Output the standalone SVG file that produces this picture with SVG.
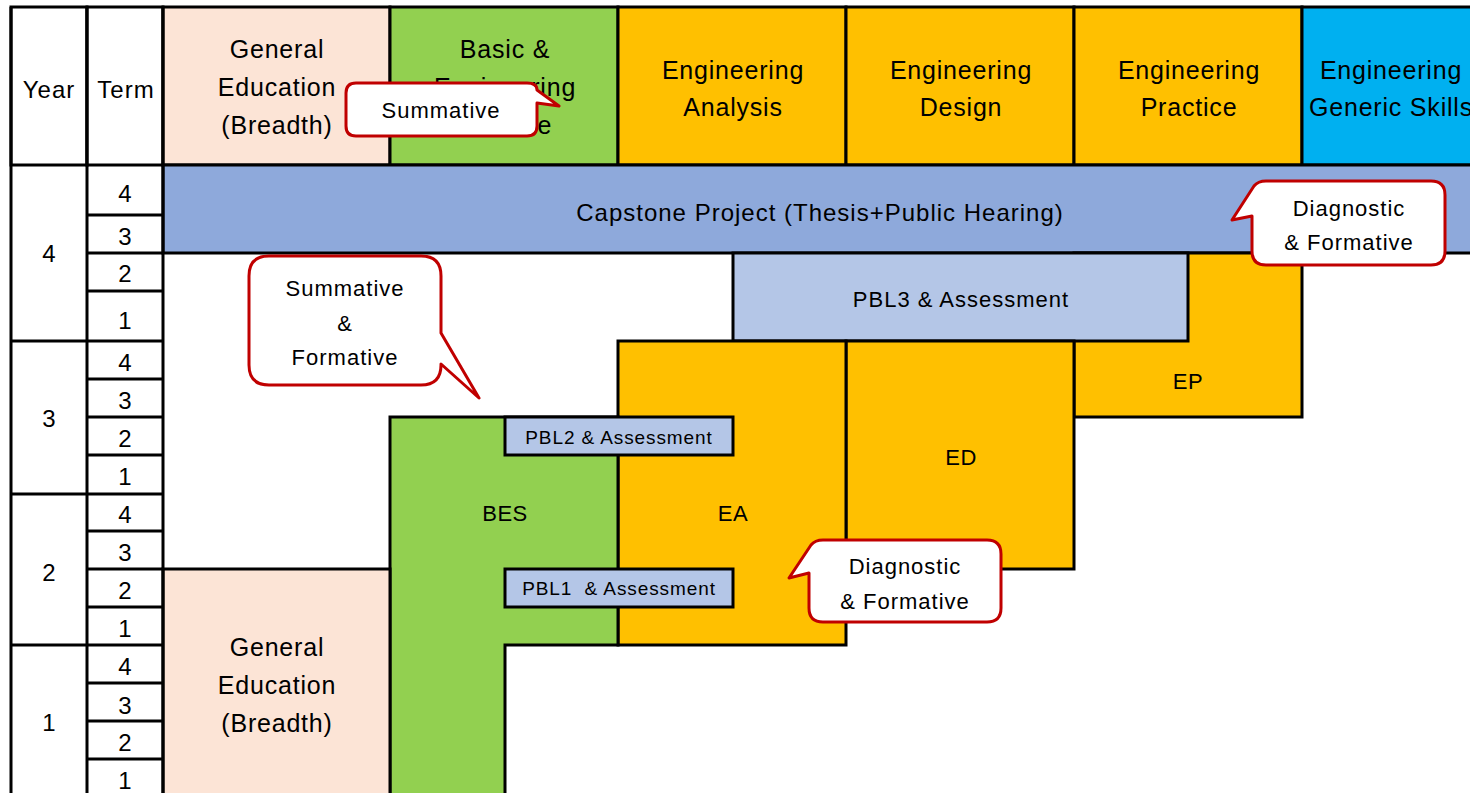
<svg xmlns="http://www.w3.org/2000/svg" width="1470" height="793" viewBox="0 0 1470 793">
<style>
text{font-family:"Liberation Sans",Arial,sans-serif;fill:#000;text-anchor:middle;dominant-baseline:central}
.h{font-size:25px;letter-spacing:0.8px}
.t{font-size:24px;letter-spacing:1px}
.n{font-size:22px;letter-spacing:0.5px}
.d{font-size:24px}
.c{font-size:22px;letter-spacing:1px}
.p{font-size:19px;letter-spacing:0.9px}
.cap{font-size:24px;letter-spacing:1px}
.ln{stroke:#000;stroke-width:3;fill:none}
.box{stroke:#000;stroke-width:3}
.ge{fill:#FCE4D6}.bes{fill:#92D050}.eng{fill:#FFC000}.egs{fill:#00B0F0}.cp{fill:#8EA9DB}.pbl{fill:#B4C6E7}
.call{fill:#fff;stroke:#C00000;stroke-width:3;stroke-linejoin:round}
</style>
<rect width="1470" height="793" fill="#fff"/>

<g id="header">
  <rect class="box" x="11" y="7" width="76" height="158" fill="#fff"/>
  <rect class="box" x="87" y="7" width="76" height="158" fill="#fff"/>
  <rect class="box ge" x="163" y="7" width="227" height="158"/>
  <rect class="box bes" x="390" y="7" width="228" height="158"/>
  <rect class="box eng" x="618" y="7" width="228" height="158"/>
  <rect class="box eng" x="846" y="7" width="228" height="158"/>
  <rect class="box eng" x="1074" y="7" width="228" height="158"/>
  <rect class="box egs" x="1302" y="7" width="180" height="158"/>
  <text class="t" x="49" y="89">Year</text>
  <text class="t" x="126" y="89">Term</text>
  <text class="h" x="277" y="49">General</text>
  <text class="h" x="277" y="87">Education</text>
  <text class="h" x="277" y="125">(Breadth)</text>
  <text class="h" x="505" y="49">Basic &amp;</text>
  <text class="h" x="505" y="87">Engineering</text>
  <text class="h" x="505" y="125">Science</text>
  <text class="h" x="733" y="70">Engineering</text>
  <text class="h" x="733" y="107">Analysis</text>
  <text class="h" x="961" y="70">Engineering</text>
  <text class="h" x="961" y="107">Design</text>
  <text class="h" x="1189" y="70">Engineering</text>
  <text class="h" x="1189" y="107">Practice</text>
  <text class="h" x="1391" y="70">Engineering</text>
  <text class="h" x="1391" y="107">Generic Skills</text>
</g>

<g id="capstone">
  <rect class="box cp" x="163" y="165" width="1320" height="88"/>
  <text class="cap" x="820" y="212">Capstone Project (Thesis+Public Hearing)</text>
</g>

<g id="ep">
  <rect class="box eng" x="1074" y="253" width="228" height="164"/>
  <text class="n" x="1188" y="381">EP</text>
</g>

<g id="pbl3">
  <rect class="box pbl" x="733" y="253" width="455" height="88"/>
  <text class="c" x="961" y="299">PBL3 &amp; Assessment</text>
</g>

<g id="ed">
  <rect class="box eng" x="846" y="341" width="228" height="228"/>
  <text class="n" x="961" y="457">ED</text>
</g>

<g id="ea">
  <rect class="box eng" x="618" y="341" width="228" height="304"/>
  <text class="n" x="733" y="513">EA</text>
</g>

<g id="bes">
  <path class="box bes" d="M390,417 H618 V645 H505 V800 H390 Z"/>
  <text class="n" x="505" y="513">BES</text>
</g>

<g id="ge-lower">
  <rect class="box ge" x="163" y="569" width="227" height="240"/>
  <text class="h" x="277" y="647">General</text>
  <text class="h" x="277" y="685">Education</text>
  <text class="h" x="277" y="723">(Breadth)</text>
</g>

<g id="pbl2">
  <rect class="box pbl" x="505" y="417" width="228" height="38"/>
  <text class="p" x="619" y="437">PBL2 &amp; Assessment</text>
</g>

<g id="pbl1">
  <rect class="box pbl" x="505" y="569" width="228" height="38"/>
  <text class="p" x="619" y="588" xml:space="preserve">PBL1  &amp; Assessment</text>
</g>

<g id="grid">
  <path class="ln" d="M11,7 V800 M87,7 V800 M163,7 V800 M11,341 H163 M11,494 H163 M11,645 H163 M87,215 H163 M87,253 H163 M87,291 H163 M87,379 H163 M87,417 H163 M87,455 H163 M87,531 H163 M87,569 H163 M87,607 H163 M87,683 H163 M87,721 H163 M87,759 H163"/>
  <text class="d" x="49" y="253">4</text>
  <text class="d" x="49" y="418">3</text>
  <text class="d" x="49" y="572">2</text>
  <text class="d" x="49" y="722">1</text>
  <text class="d" x="125" y="193">4</text>
  <text class="d" x="125" y="236">3</text>
  <text class="d" x="125" y="273">2</text>
  <text class="d" x="125" y="320">1</text>
  <text class="d" x="125" y="362">4</text>
  <text class="d" x="125" y="400">3</text>
  <text class="d" x="125" y="438">2</text>
  <text class="d" x="125" y="476">1</text>
  <text class="d" x="125" y="514">4</text>
  <text class="d" x="125" y="552">3</text>
  <text class="d" x="125" y="590">2</text>
  <text class="d" x="125" y="628">1</text>
  <text class="d" x="125" y="666">4</text>
  <text class="d" x="125" y="705">3</text>
  <text class="d" x="125" y="742">2</text>
  <text class="d" x="125" y="780">1</text>
</g>

<g id="callout-summative">
  <path class="call" d="M356,83 H527 Q537,83 537,90 L559,106 L537,103 V126 Q537,136 527,136 H356 Q346,136 346,126 V93 Q346,83 356,83 Z"/>
  <text class="c" x="441" y="110">Summative</text>
</g>

<g id="callout-sum-form">
  <path class="call" d="M269,256 H421 Q441,256 441,276 V333 L479,398 L441,364 V365 Q441,385 421,385 H269 Q249,385 249,365 V276 Q249,256 269,256 Z"/>
  <text class="c" x="345" y="288">Summative</text>
  <text class="c" x="345" y="323">&amp;</text>
  <text class="c" x="345" y="357">Formative</text>
</g>

<g id="callout-diag-top">
  <path class="call" d="M1266,181 H1431 Q1445,181 1445,195 V251 Q1445,265 1431,265 H1266 Q1252,265 1252,251 V216 L1232,220 L1254,186 Q1258,181 1266,181 Z"/>
  <text class="c" x="1349" y="208">Diagnostic</text>
  <text class="c" x="1349" y="242">&amp; Formative</text>
</g>

<g id="callout-diag-mid">
  <path class="call" d="M823,540 H987 Q1001,540 1001,554 V608 Q1001,622 987,622 H823 Q809,622 809,608 V573 L789,578 L811,545 Q815,540 823,540 Z"/>
  <text class="c" x="905" y="566">Diagnostic</text>
  <text class="c" x="905" y="601">&amp; Formative</text>
</g>
</svg>
